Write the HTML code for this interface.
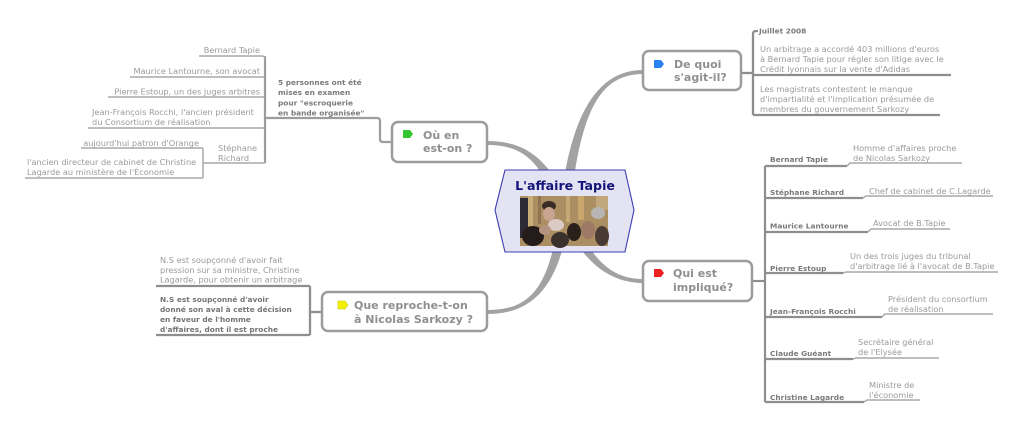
<!DOCTYPE html>
<html><head><meta charset="utf-8"><style>
html,body{margin:0;padding:0;background:#fff;width:1024px;height:431px;overflow:hidden}
svg{display:block}
.r{font-family:"DejaVu Sans","Liberation Sans",sans-serif;font-size:8.2px;fill:#9a9a9a}
.b{font-family:"DejaVu Sans","Liberation Sans",sans-serif;font-size:7.4px;font-weight:bold;fill:#7a7a7a}
.m{font-family:"DejaVu Sans","Liberation Sans",sans-serif;font-size:11px;font-weight:bold;fill:#8f8f8f}
</style></head><body>
<svg width="1024" height="431" viewBox="0 0 1024 431" xmlns="http://www.w3.org/2000/svg">
<!-- main tapered branches -->
<g fill="#a2a2a2">
<path d="M570,210.5 C580,110.5 600,74 643,74 L643,70 C600,70 570,109.5 560,209.5 Z"/>
<path d="M570,210.6 C560,290.6 530,314 487,314 L487,310 C530,310 550,289.4 560,209.4 Z"/>
<path d="M569.6,208.1 C549.6,158.1 525,141 487,141 L487,145 C525,145 540.4,161.9 560.4,211.9 Z"/>
<path d="M560.4,211.9 C580.4,261.9 610,283 643,283 L643,279 C610,279 589.6,258.1 569.6,208.1 Z"/>
</g>

<!-- LEFT TOP: Où en est-on -->
<g fill="none" stroke="#9c9c9c" stroke-width="2.2">
<path d="M392,142 L383,142 Q380,142 380,139 L380,121 Q380,118 377,118 L265,118"/>
<path d="M265,56 L265,163"/>
</g>
<g fill="none" stroke="#a8a8a8" stroke-width="1.5">
<path d="M199,56 L262,56 Q265,56 265,59"/>
<path d="M130,77 L265,77"/>
<path d="M108,97 L265,97"/>
<path d="M88,128 L265,128"/>
<path d="M203,163 L265,163"/>
<path d="M203,148 L203,178"/>
<path d="M81,148 L203,148"/>
<path d="M25,178 L203,178"/>
</g>
<text class="b" x="278" y="85">5 personnes ont été</text>
<text class="b" x="278" y="95">mises en examen</text>
<text class="b" x="278" y="105.5">pour "escroquerie</text>
<text class="b" x="278" y="115.5">en bande organisée"</text>
<text class="r" x="260" y="53" text-anchor="end">Bernard Tapie</text>
<text class="r" x="260" y="74" text-anchor="end">Maurice Lantourne, son avocat</text>
<text class="r" x="260" y="94.5" text-anchor="end">Pierre Estoup, un des juges arbitres</text>
<text class="r" x="92" y="115">Jean-François Rocchi, l'ancien président</text>
<text class="r" x="92" y="125">du Consortium de réalisation</text>
<text class="r" x="218" y="151">Stéphane</text>
<text class="r" x="218" y="161">Richard</text>
<text class="r" x="199" y="146" text-anchor="end">aujourd'hui patron d'Orange</text>
<text class="r" x="27" y="165">l'ancien directeur de cabinet de Christine</text>
<text class="r" x="27" y="175">Lagarde au ministère de l'Économie</text>

<rect x="392" y="122" width="95" height="40" rx="6" fill="#fff" stroke="#9c9c9c" stroke-width="2.5"/>
<path d="M403,130 L410,130 L413,134 L410,138 L403,138 Z" fill="#33c633"/>
<text class="m" x="423" y="139">Où en</text>
<text class="m" x="423" y="152">est-on ?</text>

<!-- LEFT BOTTOM: Que reproche -->
<g fill="none" stroke="#8e8e8e" stroke-width="2.3">
<path d="M322,312 L310,312"/>
<path d="M310,286 L310,335"/>
<path d="M156,286 L310,286"/>
<path d="M156,335 L310,335"/>
</g>
<text class="r" x="160" y="263">N.S est soupçonné d'avoir fait</text>
<text class="r" x="160" y="273">pression sur sa ministre, Christine</text>
<text class="r" x="160" y="282.5">Lagarde, pour obtenir un arbitrage</text>
<text class="b" x="160" y="302" style="fill:#747474">N.S est soupçonné d'avoir</text>
<text class="b" x="160" y="312" style="fill:#747474">donné son aval à cette décision</text>
<text class="b" x="160" y="322" style="fill:#747474">en faveur de l'homme</text>
<text class="b" x="160" y="332" style="fill:#747474">d'affaires, dont il est proche</text>

<rect x="322" y="292" width="165" height="39" rx="6" fill="#fff" stroke="#9c9c9c" stroke-width="2.5"/>
<path d="M338,301 L345,301 L348,305 L345,309 L338,309 Z" fill="#f2f200" stroke="#c8c800" stroke-width="0.6"/>
<text class="m" x="354" y="309">Que reproche-t-on</text>
<text class="m" x="354" y="323">à Nicolas Sarkozy ?</text>

<!-- RIGHT TOP: De quoi -->
<g fill="none" stroke="#8e8e8e" stroke-width="2.3">
<path d="M741,73 L753,73"/>
<path d="M758,31 L756,31 Q753,31 753,34 L753,115"/>
<path d="M753,75 L951,75"/>
<path d="M753,115 L940,115"/>
</g>
<text class="b" x="759" y="33.5">Juillet 2008</text>
<text class="r" x="760" y="52">Un arbitrage a accordé 403 millions d'euros</text>
<text class="r" x="760" y="62">à Bernard Tapie pour régler son litige avec le</text>
<text class="r" x="760" y="72">Crédit lyonnais sur la vente d'Adidas</text>
<text class="r" x="760" y="92">Les magistrats contestent le manque</text>
<text class="r" x="760" y="102">d'impartialité et l'implication présumée de</text>
<text class="r" x="760" y="112">membres du gouvernement Sarkozy</text>

<rect x="643" y="51" width="98" height="39" rx="6" fill="#fff" stroke="#9c9c9c" stroke-width="2.5"/>
<path d="M654,60 L661,60 L664,64 L661,68 L654,68 Z" fill="#2a82f0"/>
<text class="m" x="674" y="68">De quoi</text>
<text class="m" x="674" y="81">s'agit-il?</text>

<!-- RIGHT BOTTOM: Qui est impliqué -->
<g fill="none" stroke="#8e8e8e" stroke-width="2.2">
<path d="M752,281 L765,281"/>
<path d="M765,166 L765,402"/>
<path d="M765,166 L847,166"/>
<path d="M765,198 L863,198"/>
<path d="M765,232 L868,232"/>
<path d="M765,273 L843,273"/>
<path d="M765,317 L882,317"/>
<path d="M765,359 L853,359"/>
<path d="M765,402 L864,402"/>
</g>
<g fill="none" stroke="#a8a8a8" stroke-width="1.5">
<path d="M847,166 L850,163 L962,163"/>
<path d="M863,198 L866,196 L993,196"/>
<path d="M868,232 L871,229 L950,229"/>
<path d="M843,273 L846,272 L998,272"/>
<path d="M882,317 L885,314 L993,314"/>
<path d="M853,359 L856,358 L939,358"/>
<path d="M864,402 L867,400 L920,400"/>
</g>
<text class="b" x="770" y="162">Bernard Tapie</text>
<text class="r" x="853" y="151">Homme d'affaires proche</text>
<text class="r" x="853" y="161">de Nicolas Sarkozy</text>
<text class="b" x="770" y="195">Stéphane Richard</text>
<text class="r" x="869" y="194">Chef de cabinet de C.Lagarde</text>
<text class="b" x="770" y="228.5">Maurice Lantourne</text>
<text class="r" x="873" y="226">Avocat de B.Tapie</text>
<text class="b" x="770" y="271">Pierre Estoup</text>
<text class="r" x="850" y="259">Un des trois juges du tribunal</text>
<text class="r" x="850" y="269">d'arbitrage lié à l'avocat de B.Tapie</text>
<text class="b" x="770" y="314">Jean-François Rocchi</text>
<text class="r" x="888" y="302">Président du consortium</text>
<text class="r" x="888" y="312">de réalisation</text>
<text class="b" x="770" y="356">Claude Guéant</text>
<text class="r" x="858" y="345">Secrétaire général</text>
<text class="r" x="858" y="355">de l'Elysée</text>
<text class="b" x="770" y="400">Christine Lagarde</text>
<text class="r" x="869" y="388">Ministre de</text>
<text class="r" x="869" y="398">l'économie</text>

<rect x="643" y="261" width="109" height="40" rx="6" fill="#fff" stroke="#9c9c9c" stroke-width="2.5"/>
<path d="M654,269 L661,269 L664,273 L661,277 L654,277 Z" fill="#ee2020"/>
<text class="m" x="673" y="277">Qui est</text>
<text class="m" x="673" y="291">impliqué?</text>

<!-- CENTER NODE -->
<polygon points="505,170 625,170 634,210 625,252 505,252 495,210" fill="#e3e3f3" stroke="#3c3cb0" stroke-width="1.1"/>
<text x="565" y="190" text-anchor="middle" style="font-family:'DejaVu Sans','Liberation Sans',sans-serif;font-size:12.6px;font-weight:bold;fill:#14147a">L'affaire Tapie</text>
<g>
<rect x="520" y="196" width="88" height="50" fill="#ab8e62"/>
<rect x="528" y="196" width="5" height="30" fill="#c9ad78"/>
<rect x="538" y="196" width="3" height="28" fill="#8e7450"/>
<rect x="566" y="196" width="4" height="26" fill="#c6aa76"/>
<rect x="578" y="196" width="6" height="24" fill="#caa66c"/>
<rect x="596" y="196" width="12" height="14" fill="#c2a77c"/>
<rect x="520" y="198" width="8" height="40" fill="#2c2a34"/>
<ellipse cx="549" cy="206" rx="7" ry="5" fill="#3a2d26"/>
<ellipse cx="549" cy="214" rx="6" ry="7" fill="#c9a590"/>
<ellipse cx="598" cy="213" rx="7" ry="6" fill="#b8b6b4"/>
<ellipse cx="556" cy="225" rx="8" ry="6" fill="#dccbc4"/>
<ellipse cx="533" cy="236" rx="11" ry="10" fill="#231c1a"/>
<ellipse cx="560" cy="240" rx="9" ry="8" fill="#3a302c"/>
<ellipse cx="574" cy="232" rx="7" ry="9" fill="#2a201c"/>
<ellipse cx="588" cy="230" rx="7" ry="9" fill="#9c7a66"/>
<ellipse cx="602" cy="236" rx="7" ry="10" fill="#4a3a34"/>
<ellipse cx="545" cy="230" rx="6" ry="5" fill="#b49480"/>
</g>
</svg>
</body></html>
